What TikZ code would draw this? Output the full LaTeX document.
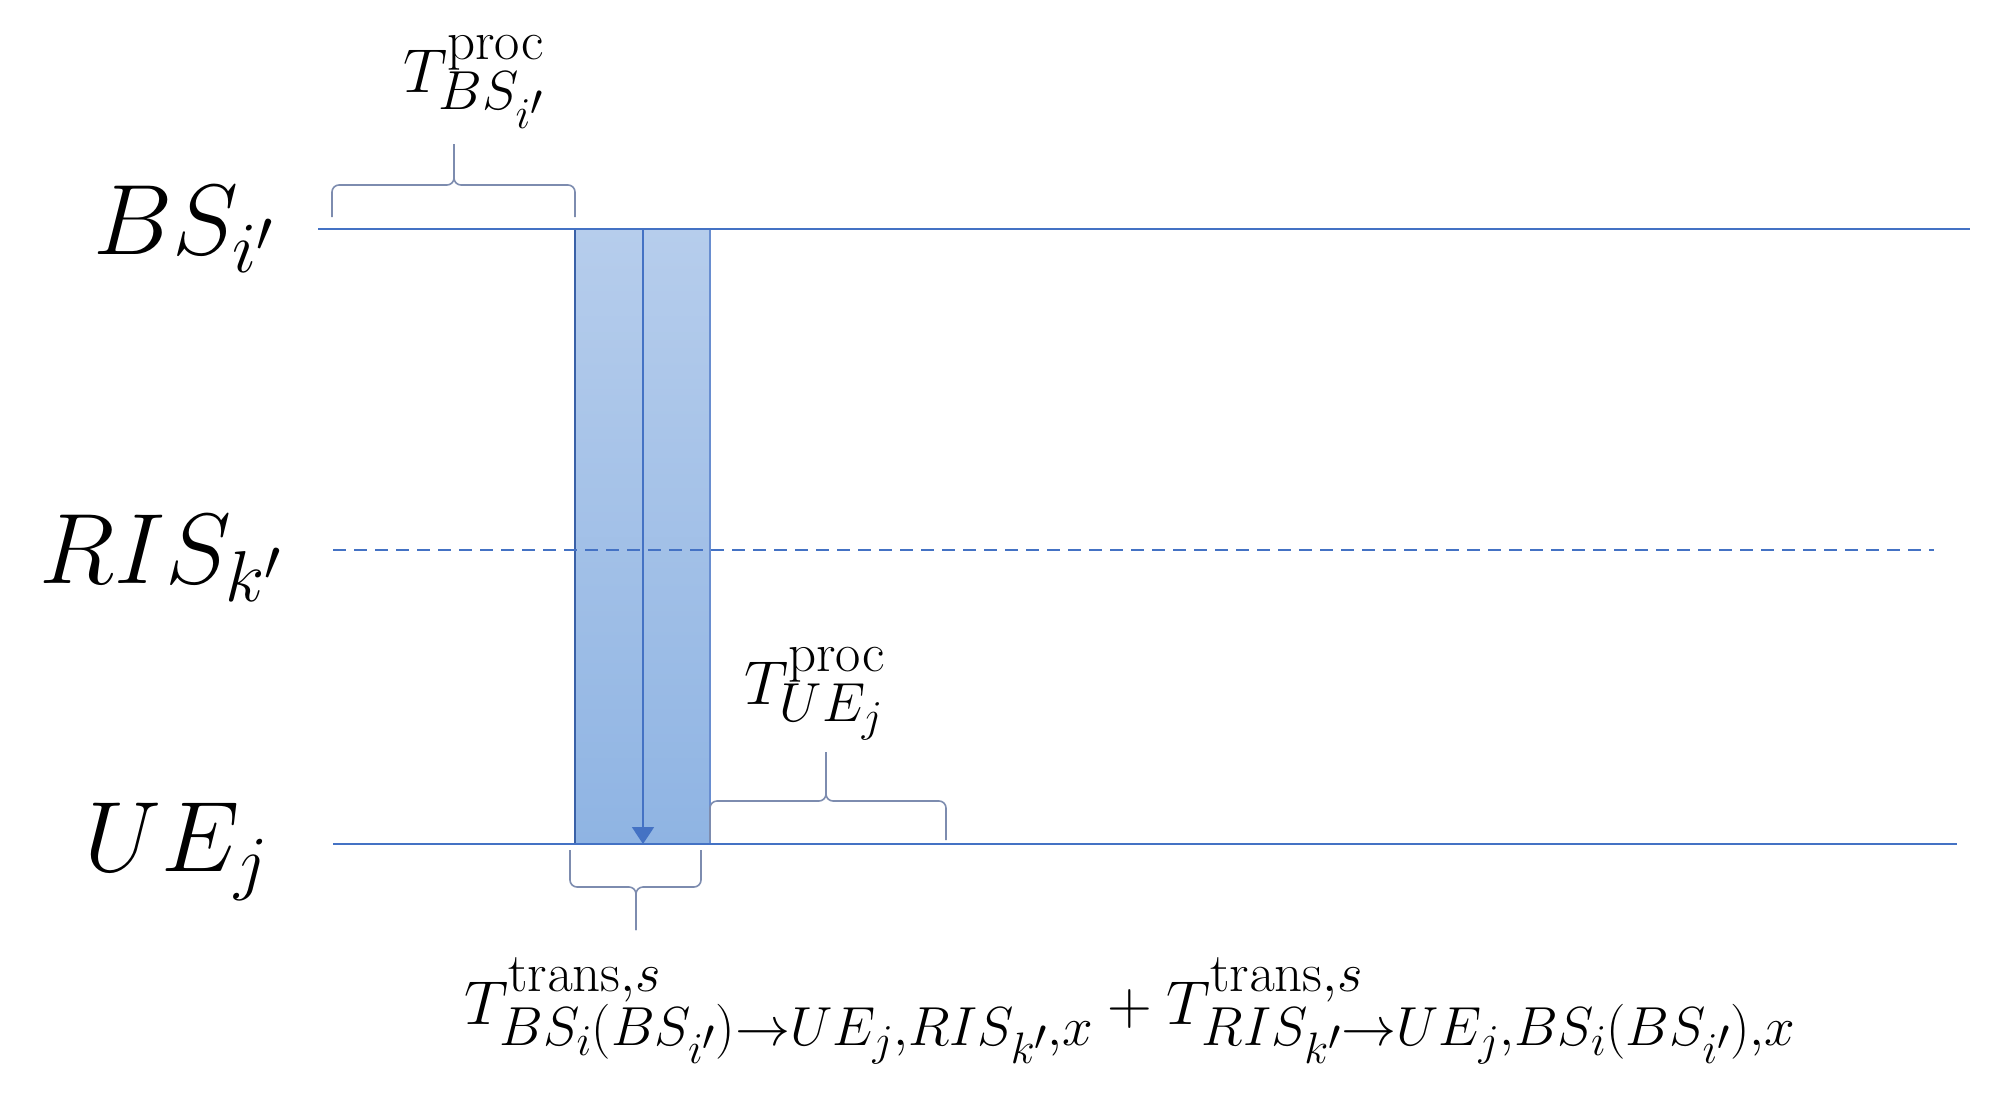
\RequirePackage{fix-cm}
\documentclass[tikz,border=0pt]{standalone}
\usetikzlibrary{arrows.meta}
\DeclareMathSizes{62}{62}{55}{44}
\DeclareMathSizes{100}{100}{72}{58}
\definecolor{lineblue}{RGB}{68,114,196}
\definecolor{bracegray}{RGB}{125,140,175}
\definecolor{filltop}{RGB}{182,205,236}
\definecolor{fillbot}{RGB}{143,180,227}
\tikzset{
  tline/.style={draw=lineblue, line width=2pt},
  bracepath/.style={draw=bracegray, line width=1.6pt, rounded corners=7pt},
  biglab/.style={font=\fontsize{100}{104}\selectfont, inner sep=0pt, text=black},
  midlab/.style={font=\fontsize{62}{66}\selectfont, inner sep=0pt, text=black},
}
\begin{document}
\begin{tikzpicture}[x=1pt,y=-1pt]
\useasboundingbox (0,0) rectangle (1995,1109);
% coordinates
\coordinate (bsL) at (318,229);
\coordinate (bsR) at (1970,229);
\coordinate (risL) at (333,550);
\coordinate (risR) at (1934,550);
\coordinate (ueL) at (333,844);
\coordinate (ueR) at (1957,844);
% shaded block
\shade[top color=filltop, bottom color=fillbot] (575,229) rectangle (710,844);
\draw[draw=lineblue!85!black, line width=1.8pt] (575,229) -- (575,844);
\draw[draw=lineblue!80, line width=1.8pt] (710,229) -- (710,844);
% timelines
\draw[tline] (bsL) -- (bsR);
\draw[tline, dash pattern=on 13pt off 8pt] (risL) -- (risR);
\draw[tline] (ueL) -- (ueR);
% middle arrow
\coordinate (arrTop) at (643,229);
\coordinate (arrBot) at (643,844);
\draw[lineblue, line width=1.8pt, -{Triangle[width=22pt,length=17pt]}] (arrTop) -- (arrBot);
% labels
\node[biglab, anchor=base east] (bs) at (274,254) {$BS_{i'}$};
\node[biglab, anchor=base east] (ris) at (282,583) {$RIS_{k'}$};
\node[biglab, anchor=base east] (ue) at (268,871) {$UE_{j}$};
% braces
\coordinate (b1tip) at (454,144);
\draw[bracepath] (332,217) -- (332,185) -- (454,185) -- (b1tip);
\draw[bracepath] (575,217) -- (575,185) -- (454,185) -- (b1tip);
\coordinate (b2tip) at (826,752);
\draw[bracepath] (710,840) -- (710,801) -- (826,801) -- (b2tip);
\draw[bracepath] (946,840) -- (946,801) -- (826,801) -- (b2tip);
\coordinate (b3tip) at (636,930);
\draw[bracepath] (570,850) -- (570,887) -- (636,887) -- (b3tip);
\draw[bracepath] (701,850) -- (701,887) -- (636,887) -- (b3tip);
% brace labels
\node[midlab, anchor=base west] (tbs) at (403,92) {$T^{\mathrm{proc}}_{BS_{i'}}$};
\node[midlab, anchor=base west] (tue) at (744,704) {$T^{\mathrm{proc}}_{UE_{j}}$};
\node[midlab, anchor=base west] (ttr) at (464,1024) {$T^{\mathrm{trans},s}_{BS_i(BS_{i'})\rightarrow UE_j,RIS_{k'},x}+T^{\mathrm{trans},s}_{RIS_{k'}\rightarrow UE_j,BS_i(BS_{i'}),x}$};
\end{tikzpicture}
\end{document}
